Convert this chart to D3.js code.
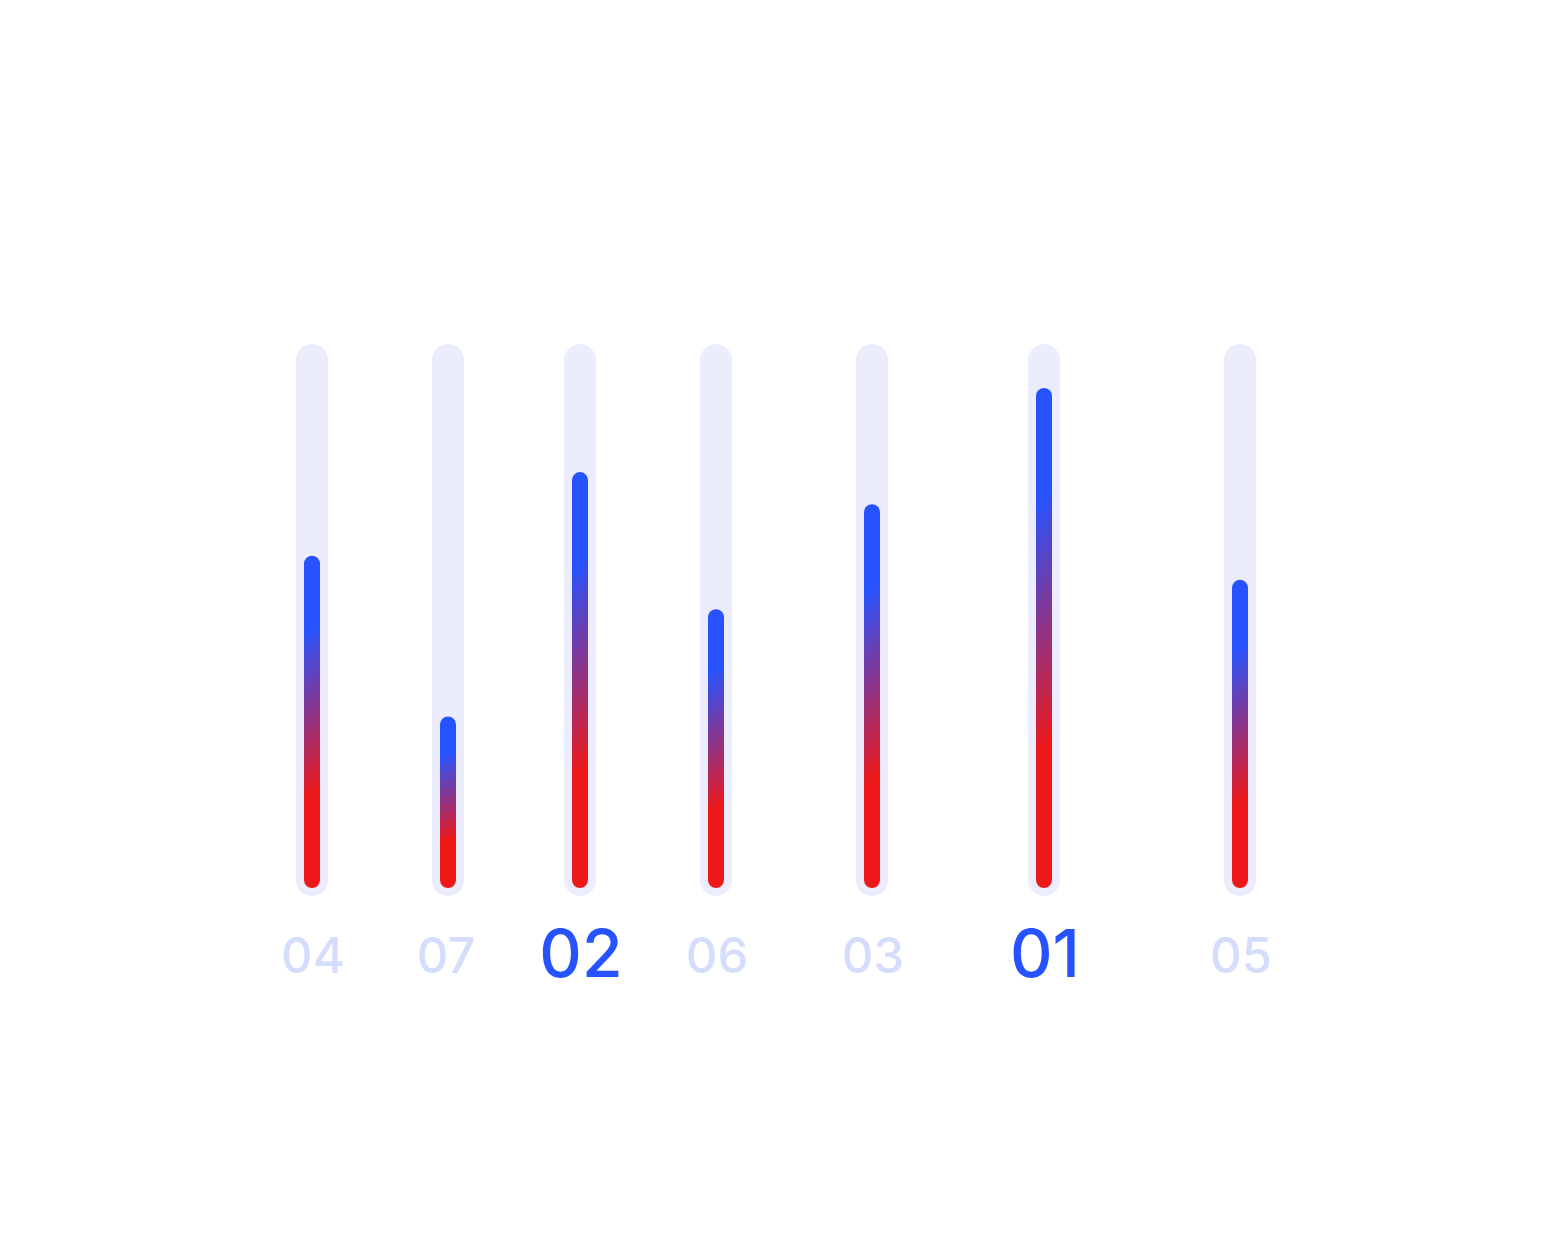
<!DOCTYPE html>
<html>
<head>
<meta charset="utf-8">
<script src="https://cdn.jsdelivr.net/npm/d3@7"></script>
<style>
  html, body { margin: 0; padding: 0; background: #fff; }
  svg { display: block; }
</style>
</head>
<body>
<div class="container"></div>
<script>
// chart data
var labels = ["04", "07", "02", "06", "03", "01", "05"];
var values = [62, 32, 77.6, 52, 71.6, 93.3, 57.5];
// slot offsets of each bar along the row (the original spacing is uneven)
var slots = [0, 136, 268, 404, 560, 732, 928];
var highlighted = ["01", "02"];

var config = {
    width: 1548,
    height: 1256,
    left: 312,
    right: 1240,
    trackTop: 344,
    trackBottom: 896,
    barBottom: 888,
    trackWidth: 32,
    barWidth: 16,
    blue: "#2653ff",
    red: "#ef1818",
    track: "#ebedfd",
    labelLight: "#d5ddfd"
};

var svg = d3.select(".container").append("svg")
    .attr("width", config.width)
    .attr("height", config.height);

var x = d3.scaleLinear()
    .domain([0, d3.max(slots)])
    .range([config.left, config.right]);

var y = d3.scaleLinear()
    .domain([0, 100])
    .range([config.barBottom, config.trackTop + 8]);

var rows = labels.map((l, i) => ({ label: l, value: values[i], slot: slots[i], i: i }));

var defs = svg.append("defs");
var grad = defs.append("linearGradient")
    .attr("id", "barGrad")
    .attr("x1", 0).attr("y1", 1)
    .attr("x2", -0.03).attr("y2", 0);
grad.append("stop").attr("offset", "0%").attr("stop-color", config.red);
grad.append("stop").attr("offset", "26%").attr("stop-color", config.red);
grad.append("stop").attr("offset", "77%").attr("stop-color", config.blue);
grad.append("stop").attr("offset", "100%").attr("stop-color", config.blue);

var g = svg.append("g");

// background tracks
g.selectAll("rect.track")
    .data(rows)
    .join("rect")
    .attr("class", "track")
    .attr("x", d => x(d.slot) - config.trackWidth / 2)
    .attr("y", config.trackTop)
    .attr("width", config.trackWidth)
    .attr("height", config.trackBottom - config.trackTop)
    .attr("rx", config.trackWidth / 2)
    .attr("fill", config.track);

// value bars
g.selectAll("rect.bar")
    .data(rows)
    .join("rect")
    .attr("class", "bar")
    .attr("x", d => x(d.slot) - config.barWidth / 2)
    .attr("y", d => y(d.value))
    .attr("width", config.barWidth)
    .attr("height", d => y(0) - y(d.value))
    .attr("rx", config.barWidth / 2)
    .attr("fill", "url(#barGrad)");

// rank labels
var isTop = d => highlighted.includes(d.label);
g.selectAll("text.label")
    .data(rows)
    .join("text")
    .attr("class", "label")
    .attr("x", d => x(d.slot) + (d.label === "07" ? -2 : 1))
    .attr("y", d => isTop(d) ? 977 : 973)
    .attr("text-anchor", "middle")
    .attr("font-family", "Inter, 'Open Sans', sans-serif")
    .attr("font-weight", 500)
    .attr("font-size", d => isTop(d) ? 66 : 49)
    .attr("fill", d => isTop(d) ? config.blue : config.labelLight)
    .text(d => d.label);
</script>
</body>
</html>
